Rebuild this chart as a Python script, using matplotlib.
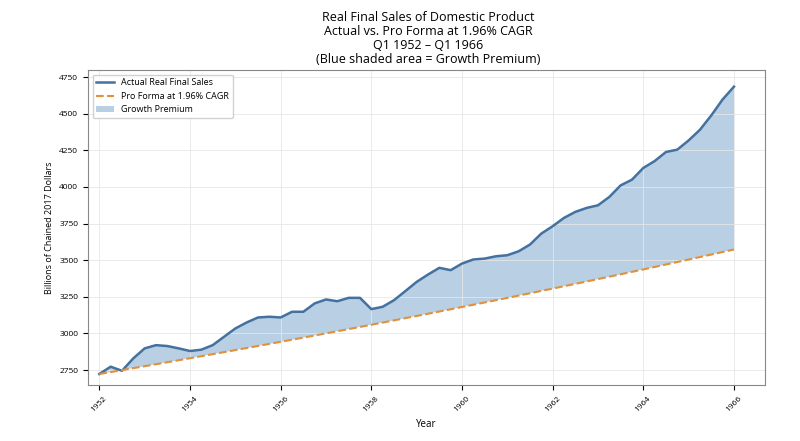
import matplotlib
matplotlib.use("Agg")
import matplotlib.pyplot as plt
import numpy as np

actual = [2723, 2773, 2745, 2830, 2898, 2920, 2914, 2898, 2880, 2889, 2920, 2977,
          3034, 3075, 3109, 3114, 3109, 3148, 3148, 3205, 3232, 3220, 3243, 3243,
          3166, 3182, 3227, 3289, 3352, 3402, 3448, 3432, 3477, 3505, 3511, 3527,
          3534, 3561, 3607, 3682, 3732, 3789, 3830, 3857, 3875, 3932, 4011, 4050,
          4130, 4177, 4239, 4255, 4318, 4391, 4489, 4598, 4685]
cagr = 0.0196
start_year = 1952
tick_years = list(range(1952, 1967, 2))
y_ticks = [2750, 3000, 3250, 3500, 3750, 4000, 4250, 4500, 4750]

years = start_year + np.arange(len(actual)) / 4.0
actual = np.array(actual, dtype=float)
proforma = actual[0] * (1 + cagr) ** (years - start_year)

plt.rcParams['font.family'] = ['Open Sans', 'DejaVu Sans']
fig = plt.figure(figsize=(8, 4.41), dpi=100)
ax = fig.add_axes([0.11, 0.127, 0.846, 0.714])
ax.fill_between(years, proforma, actual, where=actual >= proforma, interpolate=True,
                color='#7fa8cf', alpha=0.55, label='Growth Premium', linewidth=0)
ax.plot(years, actual, color='#44719f', lw=1.8, label='Actual Real Final Sales')
ax.plot(years, proforma, color='#e0913a', lw=1.5, ls='--', label='Pro Forma at 1.96% CAGR')
ax.set_xlim(1951.75, 1966.68)
ax.set_ylim(2648, 4798)
ax.set_xticks(tick_years)
ax.set_xticklabels([str(y) for y in tick_years], rotation=45, fontsize=6)
ax.set_yticks(y_ticks)
ax.tick_params(axis='y', labelsize=6)
ax.grid(True, color='#e6e6e6', lw=0.6)
for s in ax.spines.values():
    s.set_color('#888888')
ax.set_xlabel('Year', fontsize=7)
ax.set_ylabel('Billions of Chained 2017 Dollars', fontsize=6.5)
h, l = ax.get_legend_handles_labels()
order = [1, 2, 0]
ax.legend([h[i] for i in order], [l[i] for i in order], loc='upper left', fontsize=6.5, framealpha=0.9)
fig.suptitle('Real Final Sales of Domestic Product\nActual vs. Pro Forma at 1.96% CAGR\nQ1 1952 – Q1 1966\n(Blue shaded area = Growth Premium)',
             fontsize=9, y=0.975, x=0.535, linespacing=1.1)
fig.savefig('out.png', dpi=100)
